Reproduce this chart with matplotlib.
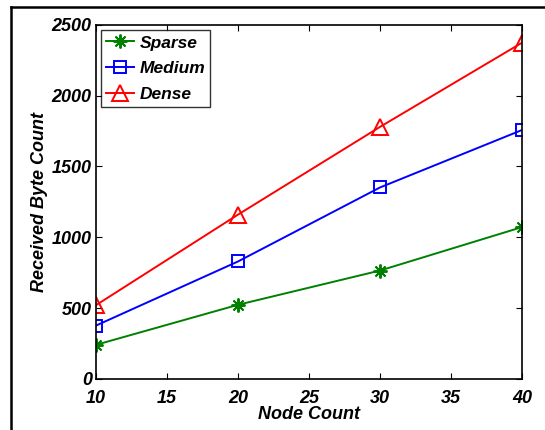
import matplotlib
matplotlib.use("Agg")
import matplotlib.pyplot as plt
from matplotlib.lines import Line2D

# datos
nodos = [10, 20, 30, 40]
sparse = [240, 523, 765, 1072]
medium = [376, 829, 1352, 1758]
dense = [520, 1160, 1780, 2375]

plt.rcParams['font.family'] = ['Liberation Sans', 'DejaVu Sans']
fuente = dict(fontsize=13, fontweight='bold', fontstyle='italic')

fig = plt.figure(figsize=(5.45, 4.3), dpi=100)
ax = fig.add_axes([0.176, 0.119, 0.782, 0.823])

# asterisco estilo matlab: 8 radios
ax.plot(nodos, sparse, color='#008000', marker=(8, 2, 0), markersize=10, lw=1.4,
        markeredgewidth=1.4, label='Sparse')
ax.plot(nodos, medium, color='#0000ff', marker='s', markersize=9, lw=1.4,
        markerfacecolor='none', markeredgewidth=1.4, label='Medium')
ax.plot(nodos, dense, color='#ff0000', marker='^', markersize=12, lw=1.4,
        markerfacecolor='none', markeredgewidth=1.4, label='Dense')

ax.set_xlim(10, 40)
ax.set_ylim(0, 2500)
ax.set_xticks([10, 15, 20, 25, 30, 35, 40])
ax.set_yticks([0, 500, 1000, 1500, 2000, 2500])
ax.tick_params(direction='in', top=True, right=True, length=4, width=0.8)
ax.tick_params(axis='x', pad=8)
ax.tick_params(axis='y', pad=3)
for lab in ax.get_xticklabels() + ax.get_yticklabels():
    lab.set_fontsize(13)
    lab.set_fontweight('bold')
    lab.set_fontstyle('italic')
for s in ax.spines.values():
    s.set_linewidth(1.2)

ax.set_xlabel('Node Count', labelpad=-1, **fuente)
ax.set_ylabel('Received Byte Count', labelpad=3, **fuente)

leg = ax.legend(loc='upper left', fancybox=False, edgecolor='black',
                borderaxespad=0.3, handlelength=1.6, handletextpad=0.3,
                labelspacing=0.6, borderpad=0.3,
                prop=dict(family=['Liberation Sans', 'DejaVu Sans'], size=12.5,
                          weight='bold', style='italic'))
leg.get_frame().set_linewidth(1.0)

# marco exterior (arriba e izquierda)
fig.add_artist(Line2D([0.020, 1.0], [0.984, 0.984], color='black', lw=1.8))
fig.add_artist(Line2D([0.020, 0.020], [0.0, 0.984], color='black', lw=1.8))

fig.savefig('out.png', dpi=100)
